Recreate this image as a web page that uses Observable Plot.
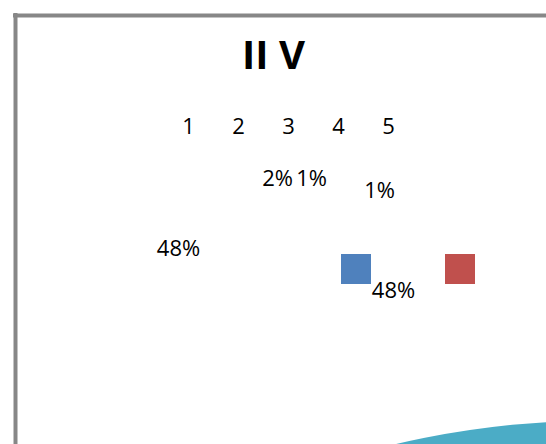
<!DOCTYPE html>
<html>
<head>
<meta charset="utf-8">
<script src="https://cdn.jsdelivr.net/npm/d3@7"></script>
<script src="https://cdn.jsdelivr.net/npm/@observablehq/plot@0.6"></script>
<style>
  html, body { margin: 0; padding: 0; background: #fff; overflow: hidden; }
  #chart svg { display: block; }
</style>
</head>
<body>
<div id="chart"></div>
<script>
// ---- data ----
const title = "II V";
const categories = ["1", "2", "3", "4", "5"];
const values = [48, 48, 2, 1, 1];
const pctLabels = ["48%", "48%", "2%", "1%", "1%"];

// ---- styling / layout (kept separate from data) ----
const palette = ["#4F81BD", "#C0504D", "#9BBB59", "#8064A2", "#4BACC6"];
const font = "'Open Sans', 'Liberation Sans', sans-serif";
const W = 546, H = 444;
// where the (broken) renderer put each data label, in pixels
const labelPos = [[178, 255], [393, 297], [277, 185], [311, 185], [379, 197]];
// legend row of category names
const legendX0 = 188, legendStep = 50, legendY = 133;
// legend swatches that were drawn (series 1 and 2)
const swatchPos = [[356, 269], [460, 269]];
const swatchSize = 30;
// the pie disc, mostly pushed off the canvas
const pie = {cx: 600, cy: 1320, r: 900};

const labelData = values.map((v, i) => ({
  cat: categories[i], v, label: pctLabels[i], x: labelPos[i][0], y: labelPos[i][1]
}));
const legendData = categories.map((c, i) => ({cat: c, x: legendX0 + i * legendStep, y: legendY}));
const swatchData = swatchPos.map((p, i) => ({
  cat: categories[i],
  x1: p[0] - swatchSize / 2, x2: p[0] + swatchSize / 2,
  y1: p[1] - swatchSize / 2, y2: p[1] + swatchSize / 2
}));
const discData = [{cat: categories[4], x: pie.cx, y: pie.cy, r: pie.r}];

const chart = Plot.plot({
  width: W,
  height: H,
  margin: 0,
  style: {fontFamily: font, background: "#fff"},
  x: {domain: [0, W], range: [0, W], axis: null},
  y: {domain: [0, H], range: [0, H], axis: null},
  r: {type: "identity"},
  color: {domain: categories, range: palette},
  marks: [
    Plot.dot(discData, {x: "x", y: "y", r: "r", fill: "cat", stroke: null, clip: true}),
    Plot.ruleX([15], {y1: 13, y2: H, stroke: "#878787", strokeWidth: 4}),
    Plot.ruleY([15], {x1: 13, x2: W, stroke: "#878787", strokeWidth: 4}),
    Plot.text([title], {x: 273, y: 68, text: d => d, fontSize: 40, fontWeight: "bold", fill: "#000", lineAnchor: "bottom", textAnchor: "middle"}),
    Plot.text(legendData, {x: "x", y: "y", text: "cat", fontSize: 22, fill: "#000", lineAnchor: "bottom", textAnchor: "middle"}),
    Plot.text(labelData, {x: "x", y: "y", text: "label", fontSize: 22, fill: "#000", lineAnchor: "bottom", textAnchor: "middle"}),
    Plot.rect(swatchData, {x1: "x1", x2: "x2", y1: "y1", y2: "y2", fill: "cat"})
  ]
});
document.getElementById("chart").append(chart);
</script>
</body>
</html>
